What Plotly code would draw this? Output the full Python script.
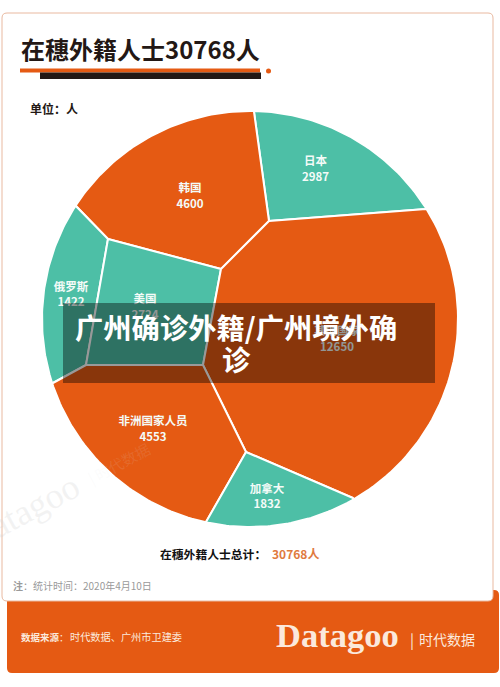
import numpy as np
import plotly.graph_objects as go

# ---- data ----
categories = ["日本", "韩国", "俄罗斯", "美国", "其他国家", "非洲国家人员", "加拿大"]
values = [2987, 4600, 1422, 2724, 12650, 4553, 1832]
groups = ["teal", "orange", "teal", "teal", "orange", "orange", "teal"]
TOTAL = 30768

# Voronoi cell outlines (last -> first vertex follows the circle)
cell_japan = [(254, 112), (269, 221), (426, 209)]
cell_korea = [(76, 206), (108, 239), (221, 269), (269, 221), (254, 112)]
cell_russia = [(53, 383), (86, 365), (108, 239), (76, 206)]
cell_usa = [(108, 239), (221, 269), (203, 365), (86, 365)]
cell_other = [(426, 209), (269, 221), (221, 269), (203, 365), (246, 452), (353, 498)]
cell_africa = [(206, 522), (246, 452), (203, 365), (86, 365), (53, 383)]
cell_canada = [(353, 498), (246, 452), (206, 522)]
cells = [cell_japan, cell_korea, cell_russia, cell_usa, cell_other, cell_africa, cell_canada]
closes_on_circle = [True, True, True, False, True, True, True]

label_x = [315.5, 190, 71, 145, 337, 153, 267]
label_name_y = [162.5, 189.5, 288, 300, 332, 422, 490.5]
label_value_y = [178, 205.5, 303, 316, 348, 438, 505.5]

# ---- styles ----
ORANGE = "#E55A13"
TEAL = "#4DBFA6"
CREAM = "#FBE9DC"
DARK = "#231815"
CJK = "Noto Sans CJK SC"
CX, CY, R = 250, 319, 208
FILL = {"teal": TEAL, "orange": ORANGE}


def outline(cell, on_circle):
    xs = [p[0] for p in cell]
    ys = [p[1] for p in cell]
    if on_circle:
        a0 = np.arctan2(ys[-1] - CY, xs[-1] - CX)
        a1 = np.arctan2(ys[0] - CY, xs[0] - CX)
        d = (a1 - a0 + np.pi) % (2 * np.pi) - np.pi
        t = a0 + d * np.linspace(0, 1, 60)
        xs += list(CX + R * np.cos(t))
        ys += list(CY + R * np.sin(t))
    return xs + [xs[0]], ys + [ys[0]]


def round_rect(x0, y0, x1, y1, r):
    return (f"M{x0+r},{y0} L{x1-r},{y0} Q{x1},{y0} {x1},{y0+r} L{x1},{y1-r} Q{x1},{y1} {x1-r},{y1} "
            f"L{x0+r},{y1} Q{x0},{y1} {x0},{y1-r} L{x0},{y0+r} Q{x0},{y0} {x0+r},{y0} Z")


fig = go.Figure()
for cell, closed, g, name in zip(cells, closes_on_circle, groups, categories):
    x, y = outline(cell, closed)
    fig.add_trace(go.Scatter(x=x, y=y, mode="lines", fill="toself", fillcolor=FILL[g],
                             line=dict(color="white", width=2), name=name, hoverinfo="name"))

# cell labels are traces so the translucent band dims them, as in the reference
fig.add_trace(go.Scatter(x=label_x, y=label_name_y, mode="text", text=[f"<b>{c}</b>" for c in categories],
                         textposition="middle center", hoverinfo="skip",
                         textfont=dict(family=CJK, size=11.5, color="#F4FBF8")))
fig.add_trace(go.Scatter(x=label_x, y=label_value_y, mode="text", text=[f"<b>{v}</b>" for v in values],
                         textposition="middle center", hoverinfo="skip",
                         textfont=dict(family=CJK, size=11.5, color="#F4FBF8")))

shapes = [
    dict(type="path", path=round_rect(7, 590, 499, 673, 5), fillcolor=ORANGE, line_width=0, layer="below"),
    dict(type="path", path=round_rect(2, 13, 493, 601, 5), fillcolor="white",
         line=dict(color="#E9B9A0", width=1), layer="below"),
    dict(type="rect", x0=20, x1=260, y0=68.5, y1=72.5, fillcolor=ORANGE, line_width=0, layer="below"),
    dict(type="rect", x0=40, x1=261, y0=72.5, y1=79, fillcolor=DARK, line_width=0, layer="below"),
    dict(type="circle", x0=266, x1=271, y0=68.5, y1=73.5, fillcolor=ORANGE, line_width=0, layer="below"),
    dict(type="rect", x0=63, x1=435, y0=303, y1=383, fillcolor="rgba(0,0,0,0.4)", line_width=0, layer="above"),
]


def note(x, y, text, size, color=DARK, anchor="left", family=CJK, **kw):
    return dict(x=x, y=y, xref="x", yref="y", text=text, showarrow=False, xanchor=anchor, yanchor="middle",
                font=dict(family=family, size=size, color=color), borderpad=0, **kw)


annotations = [
    note(20, 48, f"<b>在穗外籍人士{TOTAL}人</b>", 24),
    note(29, 108, "<b>单位：人</b>", 12),
    note(159, 553, "<b>在穗外籍人士总计：</b>", 11.8, color="#111111"),
    note(271, 553, f"<b>{TOTAL}人</b>", 12, color="#E07A3E"),
    note(12, 585, "<b>注</b>：统计时间：2020年4月10日", 10, color="#9A9A9A"),
    note(20, 636.5, "<b>数据来源</b>：", 9.5, color=CREAM),
    note(69, 636.5, "时代数据、广州市卫建委", 10.2, color=CREAM),
    note(275, 635, "<b>Datagoo</b>", 34.5, color=CREAM, family="Liberation Serif"),
    note(409, 639, "|", 15, color=CREAM),
    note(418, 639, "时代数据", 14, color=CREAM),
    note(23, 512, "Datagoo", 36, color="rgba(205,205,205,0.25)", anchor="center", family="Liberation Serif",
         textangle=-28),
    note(118, 463, "| 时代数据", 15, color="rgba(225,225,225,0.12)", anchor="center", textangle=-28),
    note(236, 326, "<b>广州确诊外籍/广州境外确</b>", 28.3, color="white", anchor="center"),
    note(236, 358, "<b>诊</b>", 28.3, color="white", anchor="center"),
]

fig.update_layout(
    width=500, height=687, margin=dict(l=0, r=0, t=0, b=0), autosize=False,
    paper_bgcolor="white", plot_bgcolor="white", showlegend=False,
    xaxis=dict(range=[0, 500], visible=False, fixedrange=True),
    yaxis=dict(range=[687, 0], visible=False, fixedrange=True),
    shapes=shapes, annotations=annotations,
)
fig.write_html("out.html", config={"displayModeBar": False},
               post_script="document.body.style.margin='0';document.documentElement.style.overflow='hidden';")
